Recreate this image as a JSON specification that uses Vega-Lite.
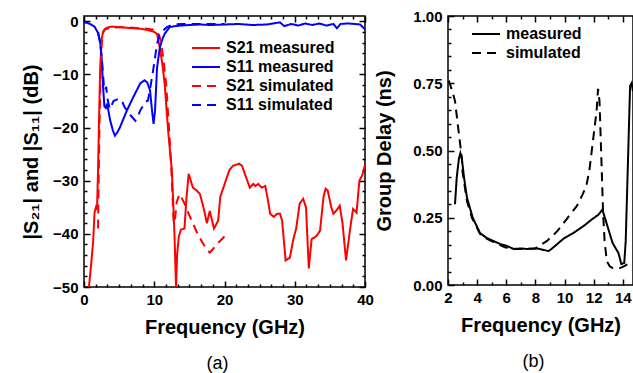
{
  "$schema": "https://vega.github.io/schema/vega-lite/v6.json",
  "padding": {"left": 20, "top": 8, "right": 0, "bottom": 0},
  "background": "white",
  "spacing": 83,
  "bounds": "flush",
  "resolve": {"scale": {"color": "independent", "strokeDash": "independent"}, "legend": {"color": "independent", "strokeDash": "independent"}},
  "config": {
    "font": "Liberation Sans",
    "view": {"stroke": "black", "strokeWidth": 1.5},
    "axis": {
      "grid": false, "domain": false,
      "labelFont": "Liberation Sans", "labelFontWeight": "bold", "labelFontSize": 15, "labelColor": "black",
      "titleFont": "Liberation Sans", "titleFontWeight": "bold", "titleFontSize": 20, "titleColor": "black",
      "tickColor": "black", "tickWidth": 1.5, "labelOverlap": false, "labelFlush": false, "labelBound": false
    },
    "legend": {
      "labelFont": "Liberation Sans", "labelFontWeight": "bold", "labelFontSize": 16, "labelColor": "black",
      "symbolType": "M-1.4,0H1.4", "symbolSize": 400, "symbolStrokeWidth": 2, "symbolFillColor": "transparent", "labelOffset": 9, "rowPadding": 0, "labelLimit": 300, "padding": 0
    }
  },
  "datasets": {
    "sp": [
      {"f":0.7,"v":-50,"s":"S21 measured"},{"f":1.0,"v":-46,"s":"S21 measured"},{"f":1.3,"v":-41.5,"s":"S21 measured"},{"f":1.5,"v":-36,"s":"S21 measured"},{"f":1.7,"v":-35,"s":"S21 measured"},{"f":1.85,"v":-35.5,"s":"S21 measured"},{"f":2.0,"v":-28,"s":"S21 measured"},{"f":2.15,"v":-18,"s":"S21 measured"},{"f":2.3,"v":-9,"s":"S21 measured"},{"f":2.5,"v":-3.5,"s":"S21 measured"},{"f":2.7,"v":-2,"s":"S21 measured"},{"f":3.0,"v":-1.4,"s":"S21 measured"},{"f":3.5,"v":-1.1,"s":"S21 measured"},{"f":4,"v":-1.0,"s":"S21 measured"},{"f":5,"v":-1.1,"s":"S21 measured"},{"f":6,"v":-1.2,"s":"S21 measured"},{"f":7,"v":-1.3,"s":"S21 measured"},{"f":8,"v":-1.4,"s":"S21 measured"},{"f":9,"v":-1.6,"s":"S21 measured"},{"f":10,"v":-2,"s":"S21 measured"},{"f":10.4,"v":-2.4,"s":"S21 measured"},{"f":10.8,"v":-5,"s":"S21 measured"},{"f":11.2,"v":-8.5,"s":"S21 measured"},{"f":11.5,"v":-12,"s":"S21 measured"},{"f":12.0,"v":-21,"s":"S21 measured"},{"f":12.5,"v":-28,"s":"S21 measured"},{"f":12.7,"v":-34,"s":"S21 measured"},{"f":12.9,"v":-41,"s":"S21 measured"},{"f":13.1,"v":-50,"s":"S21 measured"},{"f":13.25,"v":-44,"s":"S21 measured"},{"f":13.5,"v":-40.5,"s":"S21 measured"},{"f":13.8,"v":-39.2,"s":"S21 measured"},{"f":14.3,"v":-39,"s":"S21 measured"},{"f":14.6,"v":-33,"s":"S21 measured"},{"f":14.9,"v":-28.7,"s":"S21 measured"},{"f":15.2,"v":-30,"s":"S21 measured"},{"f":15.5,"v":-31.3,"s":"S21 measured"},{"f":16.0,"v":-31.8,"s":"S21 measured"},{"f":16.5,"v":-32.5,"s":"S21 measured"},{"f":17.0,"v":-35,"s":"S21 measured"},{"f":17.5,"v":-38,"s":"S21 measured"},{"f":17.9,"v":-35.7,"s":"S21 measured"},{"f":18.5,"v":-39,"s":"S21 measured"},{"f":19.1,"v":-37.5,"s":"S21 measured"},{"f":19.4,"v":-33,"s":"S21 measured"},{"f":19.8,"v":-31.5,"s":"S21 measured"},{"f":20.3,"v":-29.5,"s":"S21 measured"},{"f":20.7,"v":-28,"s":"S21 measured"},{"f":21.2,"v":-27.2,"s":"S21 measured"},{"f":22.1,"v":-26.8,"s":"S21 measured"},{"f":22.5,"v":-27.2,"s":"S21 measured"},{"f":22.9,"v":-28.7,"s":"S21 measured"},{"f":23.6,"v":-31.3,"s":"S21 measured"},{"f":24.1,"v":-30.6,"s":"S21 measured"},{"f":24.4,"v":-31,"s":"S21 measured"},{"f":24.8,"v":-30.6,"s":"S21 measured"},{"f":25.3,"v":-31.3,"s":"S21 measured"},{"f":25.8,"v":-31,"s":"S21 measured"},{"f":26.1,"v":-33,"s":"S21 measured"},{"f":26.5,"v":-36.2,"s":"S21 measured"},{"f":27.0,"v":-36.8,"s":"S21 measured"},{"f":27.5,"v":-36.2,"s":"S21 measured"},{"f":27.9,"v":-36.2,"s":"S21 measured"},{"f":28.2,"v":-37.5,"s":"S21 measured"},{"f":28.7,"v":-45,"s":"S21 measured"},{"f":29.3,"v":-44.5,"s":"S21 measured"},{"f":29.8,"v":-41,"s":"S21 measured"},{"f":30.2,"v":-39,"s":"S21 measured"},{"f":30.7,"v":-34.3,"s":"S21 measured"},{"f":31.2,"v":-33.4,"s":"S21 measured"},{"f":31.6,"v":-35,"s":"S21 measured"},{"f":32.0,"v":-46.5,"s":"S21 measured"},{"f":32.4,"v":-41,"s":"S21 measured"},{"f":33.1,"v":-40.4,"s":"S21 measured"},{"f":33.6,"v":-39.4,"s":"S21 measured"},{"f":34.1,"v":-33,"s":"S21 measured"},{"f":34.4,"v":-31.5,"s":"S21 measured"},{"f":34.7,"v":-31.9,"s":"S21 measured"},{"f":35.2,"v":-35,"s":"S21 measured"},{"f":35.5,"v":-36.2,"s":"S21 measured"},{"f":36.0,"v":-35.5,"s":"S21 measured"},{"f":36.4,"v":-34.7,"s":"S21 measured"},{"f":36.8,"v":-38,"s":"S21 measured"},{"f":37.3,"v":-45,"s":"S21 measured"},{"f":37.9,"v":-38.9,"s":"S21 measured"},{"f":38.3,"v":-35.3,"s":"S21 measured"},{"f":38.8,"v":-36,"s":"S21 measured"},{"f":39.2,"v":-30,"s":"S21 measured"},{"f":39.6,"v":-29,"s":"S21 measured"},{"f":40,"v":-27,"s":"S21 measured"},

      {"f":0,"v":-0.2,"s":"S11 measured"},{"f":0.5,"v":-0.3,"s":"S11 measured"},{"f":1.0,"v":-0.6,"s":"S11 measured"},{"f":1.5,"v":-1.0,"s":"S11 measured"},{"f":2.0,"v":-2.2,"s":"S11 measured"},{"f":2.3,"v":-4,"s":"S11 measured"},{"f":2.5,"v":-6.5,"s":"S11 measured"},{"f":2.7,"v":-12,"s":"S11 measured"},{"f":2.9,"v":-16,"s":"S11 measured"},{"f":3.1,"v":-16.3,"s":"S11 measured"},{"f":3.3,"v":-15.5,"s":"S11 measured"},{"f":3.7,"v":-18.5,"s":"S11 measured"},{"f":4.1,"v":-20.5,"s":"S11 measured"},{"f":4.4,"v":-21.5,"s":"S11 measured"},{"f":4.7,"v":-21,"s":"S11 measured"},{"f":5.1,"v":-20,"s":"S11 measured"},{"f":6.1,"v":-16.8,"s":"S11 measured"},{"f":7.0,"v":-14.3,"s":"S11 measured"},{"f":8.0,"v":-11.7,"s":"S11 measured"},{"f":8.6,"v":-11.1,"s":"S11 measured"},{"f":9.0,"v":-11.5,"s":"S11 measured"},{"f":9.4,"v":-13,"s":"S11 measured"},{"f":9.7,"v":-17,"s":"S11 measured"},{"f":9.9,"v":-19.3,"s":"S11 measured"},{"f":10.1,"v":-17,"s":"S11 measured"},{"f":10.4,"v":-8.7,"s":"S11 measured"},{"f":10.8,"v":-4.9,"s":"S11 measured"},{"f":11.2,"v":-3.2,"s":"S11 measured"},{"f":11.5,"v":-2.3,"s":"S11 measured"},{"f":12.2,"v":-1.1,"s":"S11 measured"},{"f":13,"v":-0.9,"s":"S11 measured"},{"f":13.7,"v":-0.8,"s":"S11 measured"},{"f":15,"v":-0.7,"s":"S11 measured"},{"f":16.5,"v":-0.6,"s":"S11 measured"},{"f":18,"v":-0.7,"s":"S11 measured"},{"f":20,"v":-0.6,"s":"S11 measured"},{"f":22,"v":-0.5,"s":"S11 measured"},{"f":24,"v":-0.7,"s":"S11 measured"},{"f":26,"v":-0.6,"s":"S11 measured"},{"f":27.9,"v":-0.2,"s":"S11 measured"},{"f":28.5,"v":-0.9,"s":"S11 measured"},{"f":29.5,"v":-0.5,"s":"S11 measured"},{"f":30.5,"v":-0.8,"s":"S11 measured"},{"f":31.5,"v":-0.4,"s":"S11 measured"},{"f":32.5,"v":-0.7,"s":"S11 measured"},{"f":33.5,"v":-0.4,"s":"S11 measured"},{"f":34.5,"v":-0.8,"s":"S11 measured"},{"f":35.5,"v":-0.5,"s":"S11 measured"},{"f":36,"v":-1.3,"s":"S11 measured"},{"f":36.5,"v":-0.5,"s":"S11 measured"},{"f":37.5,"v":-0.4,"s":"S11 measured"},{"f":38.5,"v":-0.5,"s":"S11 measured"},{"f":39.3,"v":-0.6,"s":"S11 measured"},{"f":40,"v":-1.5,"s":"S11 measured"},

      {"f":2.0,"v":-39,"s":"S21 simulated"},{"f":2.05,"v":-33,"s":"S21 simulated"},{"f":2.2,"v":-20,"s":"S21 simulated"},{"f":2.35,"v":-10,"s":"S21 simulated"},{"f":2.5,"v":-4.5,"s":"S21 simulated"},{"f":2.7,"v":-2.2,"s":"S21 simulated"},{"f":3.0,"v":-1.5,"s":"S21 simulated"},{"f":4,"v":-1.2,"s":"S21 simulated"},{"f":5,"v":-1.1,"s":"S21 simulated"},{"f":6,"v":-1.1,"s":"S21 simulated"},{"f":7,"v":-1.2,"s":"S21 simulated"},{"f":8,"v":-1.3,"s":"S21 simulated"},{"f":9,"v":-1.4,"s":"S21 simulated"},{"f":10,"v":-1.6,"s":"S21 simulated"},{"f":10.5,"v":-2,"s":"S21 simulated"},{"f":10.9,"v":-3.5,"s":"S21 simulated"},{"f":11.3,"v":-7,"s":"S21 simulated"},{"f":11.7,"v":-12,"s":"S21 simulated"},{"f":12.1,"v":-20,"s":"S21 simulated"},{"f":12.4,"v":-27,"s":"S21 simulated"},{"f":12.6,"v":-33,"s":"S21 simulated"},{"f":12.75,"v":-37.5,"s":"S21 simulated"},{"f":12.9,"v":-38,"s":"S21 simulated"},{"f":13.2,"v":-34,"s":"S21 simulated"},{"f":13.6,"v":-32.5,"s":"S21 simulated"},{"f":14.2,"v":-34,"s":"S21 simulated"},{"f":15.0,"v":-36.5,"s":"S21 simulated"},{"f":16.0,"v":-39.5,"s":"S21 simulated"},{"f":16.8,"v":-41.5,"s":"S21 simulated"},{"f":17.5,"v":-43,"s":"S21 simulated"},{"f":17.9,"v":-43.5,"s":"S21 simulated"},{"f":18.4,"v":-42.8,"s":"S21 simulated"},{"f":19.0,"v":-41.8,"s":"S21 simulated"},{"f":20.0,"v":-40.5,"s":"S21 simulated"},

      {"f":2.0,"v":-2,"s":"S11 simulated"},{"f":2.3,"v":-4,"s":"S11 simulated"},{"f":2.6,"v":-8,"s":"S11 simulated"},{"f":2.85,"v":-12.5,"s":"S11 simulated"},{"f":3.0,"v":-13,"s":"S11 simulated"},{"f":3.15,"v":-12.3,"s":"S11 simulated"},{"f":3.4,"v":-15,"s":"S11 simulated"},{"f":3.7,"v":-16.5,"s":"S11 simulated"},{"f":4.2,"v":-15,"s":"S11 simulated"},{"f":4.7,"v":-14.7,"s":"S11 simulated"},{"f":5.1,"v":-14.6,"s":"S11 simulated"},{"f":5.5,"v":-15.3,"s":"S11 simulated"},{"f":5.8,"v":-16.2,"s":"S11 simulated"},{"f":6.5,"v":-17.5,"s":"S11 simulated"},{"f":7.3,"v":-18.7,"s":"S11 simulated"},{"f":7.7,"v":-17.8,"s":"S11 simulated"},{"f":8.0,"v":-16.8,"s":"S11 simulated"},{"f":8.7,"v":-15.2,"s":"S11 simulated"},{"f":9.1,"v":-14.9,"s":"S11 simulated"},{"f":9.5,"v":-12,"s":"S11 simulated"},{"f":9.9,"v":-8.7,"s":"S11 simulated"},{"f":10.4,"v":-4.2,"s":"S11 simulated"},{"f":10.8,"v":-2.3,"s":"S11 simulated"},{"f":11.8,"v":-1.1,"s":"S11 simulated"},{"f":12.7,"v":-0.6,"s":"S11 simulated"},{"f":14,"v":-0.5,"s":"S11 simulated"},{"f":16,"v":-0.5,"s":"S11 simulated"},{"f":18,"v":-0.5,"s":"S11 simulated"},{"f":20,"v":-0.5,"s":"S11 simulated"}
    ],
    "gd": [
      {"f":2.48,"v":0.30,"s":"measured"},{"f":2.6,"v":0.40,"s":"measured"},{"f":2.75,"v":0.47,"s":"measured"},{"f":2.85,"v":0.49,"s":"measured"},{"f":2.95,"v":0.47,"s":"measured"},{"f":3.1,"v":0.40,"s":"measured"},{"f":3.3,"v":0.325,"s":"measured"},{"f":3.7,"v":0.25,"s":"measured"},{"f":4.2,"v":0.193,"s":"measured"},{"f":4.65,"v":0.175,"s":"measured"},{"f":5.1,"v":0.164,"s":"measured"},{"f":5.6,"v":0.152,"s":"measured"},{"f":6.05,"v":0.145,"s":"measured"},{"f":6.5,"v":0.134,"s":"measured"},{"f":7.0,"v":0.136,"s":"measured"},{"f":7.4,"v":0.134,"s":"measured"},{"f":8.0,"v":0.136,"s":"measured"},{"f":8.3,"v":0.134,"s":"measured"},{"f":8.9,"v":0.126,"s":"measured"},{"f":9.1,"v":0.134,"s":"measured"},{"f":9.5,"v":0.152,"s":"measured"},{"f":9.9,"v":0.171,"s":"measured"},{"f":10.6,"v":0.193,"s":"measured"},{"f":11.3,"v":0.219,"s":"measured"},{"f":11.9,"v":0.245,"s":"measured"},{"f":12.3,"v":0.26,"s":"measured"},{"f":12.6,"v":0.28,"s":"measured"},{"f":12.9,"v":0.227,"s":"measured"},{"f":13.3,"v":0.156,"s":"measured"},{"f":13.7,"v":0.119,"s":"measured"},{"f":13.9,"v":0.078,"s":"measured"},{"f":14.1,"v":0.082,"s":"measured"},{"f":14.2,"v":0.164,"s":"measured"},{"f":14.35,"v":0.45,"s":"measured"},{"f":14.5,"v":0.74,"s":"measured"},{"f":14.6,"v":0.75,"s":"measured"},{"f":14.7,"v":0.72,"s":"measured"},

      {"f":2.05,"v":0.76,"s":"simulated"},{"f":2.3,"v":0.72,"s":"simulated"},{"f":2.48,"v":0.684,"s":"simulated"},{"f":2.7,"v":0.584,"s":"simulated"},{"f":2.95,"v":0.472,"s":"simulated"},{"f":3.0,"v":0.42,"s":"simulated"},{"f":3.3,"v":0.312,"s":"simulated"},{"f":3.65,"v":0.249,"s":"simulated"},{"f":4.2,"v":0.19,"s":"simulated"},{"f":4.65,"v":0.172,"s":"simulated"},{"f":5.1,"v":0.16,"s":"simulated"},{"f":5.6,"v":0.148,"s":"simulated"},{"f":5.9,"v":0.14,"s":"simulated"},{"f":6.5,"v":0.134,"s":"simulated"},{"f":7.4,"v":0.134,"s":"simulated"},{"f":8.0,"v":0.136,"s":"simulated"},{"f":8.45,"v":0.152,"s":"simulated"},{"f":8.8,"v":0.164,"s":"simulated"},{"f":9.5,"v":0.2,"s":"simulated"},{"f":10.2,"v":0.249,"s":"simulated"},{"f":10.85,"v":0.294,"s":"simulated"},{"f":11.25,"v":0.338,"s":"simulated"},{"f":11.5,"v":0.37,"s":"simulated"},{"f":11.7,"v":0.424,"s":"simulated"},{"f":11.95,"v":0.535,"s":"simulated"},{"f":12.2,"v":0.647,"s":"simulated"},{"f":12.3,"v":0.729,"s":"simulated"},{"f":12.4,"v":0.684,"s":"simulated"},{"f":12.55,"v":0.435,"s":"simulated"},{"f":12.65,"v":0.264,"s":"simulated"},{"f":12.75,"v":0.164,"s":"simulated"},{"f":12.9,"v":0.089,"s":"simulated"},{"f":13.1,"v":0.07,"s":"simulated"},{"f":13.3,"v":0.063,"s":"simulated"},{"f":13.8,"v":0.063,"s":"simulated"},{"f":14.1,"v":0.07,"s":"simulated"},{"f":14.35,"v":0.078,"s":"simulated"},{"f":14.6,"v":0.082,"s":"simulated"},{"f":14.7,"v":0.085,"s":"simulated"}
    ]
  },
  "hconcat": [
    {
      "width": 281, "height": 271,
      "data": {"name": "sp"},
      "title": {"text": "(a)", "orient": "bottom", "fontWeight": "normal", "fontSize": 18, "font": "Liberation Sans", "color": "black", "frame": "group", "dx": -7, "offset": 18},
      "resolve": {"axis": {"x": "independent", "y": "independent"}},
      "layer": [
        {
          "mark": {"type": "line", "strokeWidth": 2, "clip": true},
          "encoding": {
            "x": {"field": "f", "type": "quantitative", "scale": {"domain": [0, 40], "nice": false, "zero": false},
              "axis": {"orient": "bottom", "title": "Frequency (GHz)", "titlePadding": 10, "values": [0, 10, 20, 30, 40], "format": "d", "tickSize": -6, "labelPadding": 11}},
            "y": {"field": "v", "type": "quantitative", "scale": {"domain": [-50, 1], "nice": false, "zero": false},
              "axis": {"orient": "left", "title": "|S₂₁| and |S₁₁| (dB)", "titlePadding": 11, "values": [-50, -40, -30, -20, -10, 0], "format": "d", "tickSize": -6, "labelPadding": 12}},
            "color": {"field": "s", "type": "nominal",
              "scale": {"domain": ["S21 measured", "S11 measured", "S21 simulated", "S11 simulated"], "range": ["#ff0000", "#0000ff", "#ff0000", "#0000ff"]},
              "legend": {"orient": "none", "legendX": 111, "legendY": 21, "title": null}},
            "strokeDash": {"field": "s", "type": "nominal",
              "scale": {"domain": ["S21 measured", "S11 measured", "S21 simulated", "S11 simulated"], "range": [[1, 0], [1, 0], [9, 6], [9, 6]]},
              "legend": {"orient": "none", "legendX": 111, "legendY": 21, "title": null}}
          }
        },
        {
          "mark": {"type": "point", "opacity": 0, "size": 0},
          "encoding": {
            "x": {"field": "f", "type": "quantitative", "scale": {"domain": [0, 40], "nice": false, "zero": false},
              "axis": {"orient": "bottom", "title": null, "labels": false, "tickSize": -3,
                "values": [1.666667,3.333333,5,6.666667,8.333333,11.666667,13.333333,15,16.666667,18.333333,21.666667,23.333333,25,26.666667,28.333333,31.666667,33.333333,35,36.666667,38.333333]}},
            "y": {"field": "v", "type": "quantitative", "scale": {"domain": [-50, 1], "nice": false, "zero": false},
              "axis": {"orient": "left", "title": null, "labels": false, "tickSize": -3,
                "values": [-48,-46,-44,-42,-38,-36,-34,-32,-28,-26,-24,-22,-18,-16,-14,-12,-8,-6,-4,-2]}}
          }
        },
        {
          "mark": {"type": "point", "opacity": 0, "size": 0},
          "encoding": {
            "x": {"field": "f", "type": "quantitative", "scale": {"domain": [0, 40], "nice": false, "zero": false},
              "axis": {"orient": "top", "title": null, "labels": false, "tickSize": -6, "values": [0, 10, 20, 30, 40]}},
            "y": {"field": "v", "type": "quantitative", "scale": {"domain": [-50, 1], "nice": false, "zero": false},
              "axis": {"orient": "right", "title": null, "labels": false, "tickSize": -6, "values": [-50, -40, -30, -20, -10, 0]}}
          }
        },
        {
          "mark": {"type": "point", "opacity": 0, "size": 0},
          "encoding": {
            "x": {"field": "f", "type": "quantitative", "scale": {"domain": [0, 40], "nice": false, "zero": false},
              "axis": {"orient": "top", "title": null, "labels": false, "tickSize": -3,
                "values": [1.666667,3.333333,5,6.666667,8.333333,11.666667,13.333333,15,16.666667,18.333333,21.666667,23.333333,25,26.666667,28.333333,31.666667,33.333333,35,36.666667,38.333333]}},
            "y": {"field": "v", "type": "quantitative", "scale": {"domain": [-50, 1], "nice": false, "zero": false},
              "axis": {"orient": "right", "title": null, "labels": false, "tickSize": -3,
                "values": [-48,-46,-44,-42,-38,-36,-34,-32,-28,-26,-24,-22,-18,-16,-14,-12,-8,-6,-4,-2]}}
          }
        }
      ]
    },
    {
      "width": 185, "height": 269,
      "data": {"name": "gd"},
      "title": {"text": "(b)", "orient": "bottom", "fontWeight": "normal", "fontSize": 18, "font": "Liberation Sans", "color": "black", "frame": "group", "dx": -7, "offset": 18},
      "resolve": {"axis": {"x": "independent", "y": "independent"}},
      "layer": [
        {
          "mark": {"type": "line", "strokeWidth": 2, "clip": true, "color": "black"},
          "encoding": {
            "x": {"field": "f", "type": "quantitative", "scale": {"domain": [2, 14.7], "nice": false, "zero": false},
              "axis": {"orient": "bottom", "title": "Frequency (GHz)", "titlePadding": 10, "values": [2, 4, 6, 8, 10, 12, 14], "format": "d", "tickSize": -6, "labelPadding": 11}},
            "y": {"field": "v", "type": "quantitative", "scale": {"domain": [0, 1], "nice": false, "zero": false},
              "axis": {"orient": "left", "title": "Group Delay (ns)", "titlePadding": 18, "values": [0, 0.25, 0.5, 0.75, 1], "format": ".2f", "tickSize": -6, "labelPadding": 12}},
            "strokeDash": {"field": "s", "type": "nominal",
              "scale": {"domain": ["measured", "simulated"], "range": [[1, 0], [9, 6]]},
              "legend": {"orient": "none", "legendX": 27, "legendY": 7, "title": null, "symbolStrokeColor": "black"}}
          }
        },
        {
          "mark": {"type": "point", "opacity": 0, "size": 0},
          "encoding": {
            "x": {"field": "f", "type": "quantitative", "scale": {"domain": [2, 14.7], "nice": false, "zero": false},
              "axis": {"orient": "bottom", "title": null, "labels": false, "tickSize": -3, "values": [3, 5, 7, 9, 11, 13]}},
            "y": {"field": "v", "type": "quantitative", "scale": {"domain": [0, 1], "nice": false, "zero": false},
              "axis": {"orient": "left", "title": null, "labels": false, "tickSize": -3,
                "values": [0.05,0.1,0.15,0.2,0.3,0.35,0.4,0.45,0.55,0.6,0.65,0.7,0.8,0.85,0.9,0.95]}}
          }
        },
        {
          "mark": {"type": "point", "opacity": 0, "size": 0},
          "encoding": {
            "x": {"field": "f", "type": "quantitative", "scale": {"domain": [2, 14.7], "nice": false, "zero": false},
              "axis": {"orient": "top", "title": null, "labels": false, "tickSize": -6, "values": [2, 4, 6, 8, 10, 12, 14]}},
            "y": {"field": "v", "type": "quantitative", "scale": {"domain": [0, 1], "nice": false, "zero": false}, "axis": null}
          }
        },
        {
          "mark": {"type": "point", "opacity": 0, "size": 0},
          "encoding": {
            "x": {"field": "f", "type": "quantitative", "scale": {"domain": [2, 14.7], "nice": false, "zero": false},
              "axis": {"orient": "top", "title": null, "labels": false, "tickSize": -3, "values": [3, 5, 7, 9, 11, 13]}},
            "y": {"field": "v", "type": "quantitative", "scale": {"domain": [0, 1], "nice": false, "zero": false}, "axis": null}
          }
        }
      ]
    }
  ]
}
